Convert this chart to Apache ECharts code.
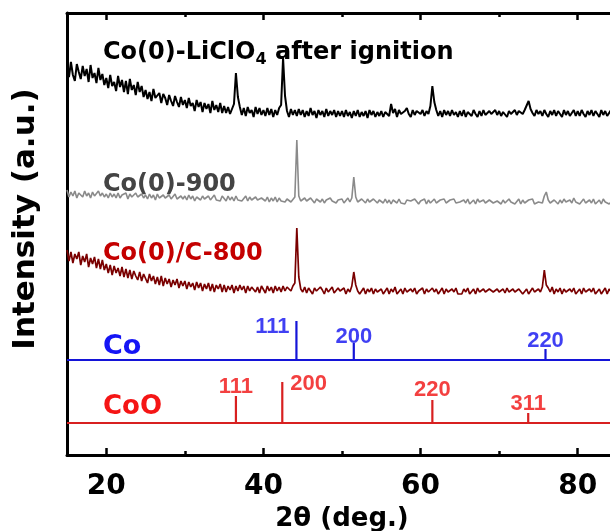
<!DOCTYPE html>
<html>
<head>
<meta charset="utf-8">
<script src="https://cdn.jsdelivr.net/npm/echarts@6/dist/echarts.min.js"></script>
<style>
  html, body { margin: 0; padding: 0; background: #fff; }
  #chart { width: 610px; height: 531px; }
</style>
</head>
<body>
<div id="chart"></div>
<script>
// Scan grid: 2θ from 15° in 0.25° steps (281 points to 85°)
const twoThetaStart = 15;
const twoThetaStep = 0.25;

// Co(0)-LiClO4 after ignition (a.u., above its own baseline)
const licloIgnited = [
  58,48,63,50,44,61,53,46,59,49,56,43,60,47,52,42,57,45,51,40,
  47,37,50,39,43,34,49,38,45,33,44,31,46,35,40,30,43,33,39,28,
  35,26,33,24,36,27,25,32,22,31,27,20,30,24,19,29,23,18,28,20,
  25,17,27,19,22,14,25,18,23,13,22,16,21,12,24,15,20,13,22,12,
  19,12,18,11,16,21,52,28,18,10,17,9,18,12,15,8,18,11,17,10,
  15,9,17,10,16,8,15,10,17,20,67,29,14,8,16,10,15,9,16,10,
  15,8,14,9,17,10,14,7,15,10,14,8,16,9,14,10,15,8,14,9,
  14,8,15,9,13,7,14,9,15,8,13,9,14,7,15,10,14,8,13,9,
  14,8,13,15,9,21,12,16,8,15,11,9,14,17,11,8,15,10,14,16,
  11,15,9,14,11,19,39,23,15,9,14,8,15,10,14,9,15,10,13,8,
  14,9,15,8,13,14,9,15,11,8,14,9,15,10,8,14,11,9,15,10,
  14,9,13,15,8,14,11,9,15,10,14,16,11,15,17,24,16,12,9,15,
  11,14,9,15,11,8,14,10,15,9,14,11,8,15,10,14,9,11,15,9,
  14,9,15,11,8,14,10,15,9,14,11,8,15,10,14,9,11,15,10,9,
  13
];

// Co(0)-900
const co900 = [
  20,13,18,14,19,12,17,18,13,19,14,17,12,18,14,13,19,14,17,13,
  16,12,17,13,16,12,17,12,15,13,17,11,16,13,12,17,13,11,16,12,
  15,11,16,12,15,10,16,12,11,15,12,10,15,11,12,16,11,10,14,11,
  14,10,15,11,14,9,13,15,10,14,11,9,14,10,12,15,10,12,9,14,
  13,9,14,10,13,9,14,10,12,9,11,14,9,13,10,9,13,10,9,12,
  12,9,13,8,12,9,13,8,12,9,11,8,11,10,8,10,13,70,14,9,
  8,12,9,8,12,10,7,11,10,8,11,7,10,8,12,9,11,7,10,8,
  11,7,9,12,8,12,33,13,8,7,11,9,7,11,8,7,11,9,7,10,
  9,7,11,7,10,6,10,9,7,11,7,9,6,10,8,9,7,11,9,6,
  9,7,11,6,10,7,9,11,7,6,10,8,11,7,6,10,8,11,7,9,
  8,6,10,7,11,6,8,10,6,11,8,6,10,7,6,10,11,7,6,9,
  8,6,10,7,6,11,8,10,6,8,11,6,10,7,6,10,8,11,6,8,
  8,10,7,14,18,10,7,6,10,8,6,10,7,11,8,6,10,7,12,8,
  9,6,8,11,7,6,10,7,11,6,8,10,6,11,8,10,6,8,10,7,
  8
];

// Co(0)/C-800
const coC800 = [
  50,39,48,37,46,41,48,35,44,38,46,33,42,36,43,32,41,31,40,30,
  36,27,35,25,34,27,32,24,33,23,31,22,30,21,29,24,20,28,19,26,
  25,17,26,19,24,16,23,15,24,14,22,16,21,13,20,15,21,12,19,14,
  19,11,18,13,17,10,18,12,17,9,16,11,17,9,16,8,15,11,16,8,
  15,8,14,10,15,7,14,9,15,10,14,7,14,9,13,15,8,13,7,14,
  13,7,14,9,13,7,14,9,13,8,14,9,13,15,9,14,17,72,23,11,
  8,13,7,12,10,6,12,9,7,13,10,6,12,8,10,13,7,6,12,9,
  7,12,6,11,8,14,28,15,9,6,8,12,6,11,8,12,6,11,8,6,
  11,6,8,12,6,11,8,13,6,8,11,6,12,8,6,11,8,12,6,9,
  8,12,6,11,8,6,12,8,11,6,8,12,6,11,8,6,11,8,12,6,
  8,6,11,8,12,6,8,11,6,12,8,6,11,8,6,11,12,8,6,11,
  8,6,11,7,12,8,6,11,8,6,11,12,6,8,11,6,8,12,8,6,
  11,8,13,30,15,12,8,13,6,11,8,12,6,11,8,6,11,8,12,6,
  8,11,6,12,8,6,11,8,12,6,8,11,6,8,12,6,11,8,6,11,
  9
];

// Reference patterns: Co (cubic) and CoO
const coRefPos = [44.2, 51.5, 75.9];
const coRefInt = [39, 17, 11];
const coRefHkl = ['111', '200', '220'];
const cooRefPos = [36.5, 42.4, 61.5, 73.7];
const cooRefInt = [27, 41, 23, 10];
const cooRefHkl = ['111', '200', '220', '311'];

// Axis ticks
const xMajorTicks = [20, 40, 60, 80];
const xMinorTicks = [30, 50, 70];

// ---- layout / styling ----
const FONT = '"DejaVu Sans", "Liberation Sans", Arial, sans-serif';
const HKL_FONT = '"Liberation Sans", Arial, sans-serif';
const X_MIN = 15, X_MAX = 85;
const stackOffset = { ignited: 330, co900: 245, coC800: 155, coRef: 95, cooRef: 32 };
// The frame runs past the right edge of the canvas, so the right border is cut off.
const gridRect = { left: 67, top: 13, right: -7, bottom: 76, outerBoundsMode: 'none', containLabel: false };

function scan(values, offset) {
  return values.map((v, i) => [twoThetaStart + i * twoThetaStep, v + offset]);
}

function stickPattern(pos, inten, base) {
  const pts = [[X_MIN, base]];
  pos.forEach((p, i) => { pts.push([p, base], [p, base + inten[i]], [p, base]); });
  pts.push([X_MAX, base]);
  return pts;
}

function stickLabels(pos, inten, hkl, base, placement) {
  return pos.map((p, i) => ({
    value: [p, base + inten[i]],
    name: hkl[i],
    label: placement[i]
  }));
}

const coLabelPlacement = [
  { position: 'left', distance: 7, offset: [0, 6] },
  { position: 'top', distance: -5 },
  { position: 'top', distance: -3 }
];
const cooLabelPlacement = [
  { position: 'top', distance: -2 },
  { position: 'right', distance: 8, offset: [0, 2] },
  { position: 'top', distance: -1 },
  { position: 'top', distance: -2 }
];

const tickAxis = (position, values, len, withLine, withLabels) => ({
  type: 'value', position, min: X_MIN, max: X_MAX,
  axisLine: { show: withLine, onZero: false, lineStyle: { color: '#000', width: 3 } },
  axisTick: { show: true, inside: true, length: len, customValues: values, lineStyle: { color: '#000', width: 2.5 } },
  axisLabel: withLabels ? {
    show: true, customValues: values, margin: 18,
    color: '#000', fontFamily: FONT, fontWeight: 'bold', fontSize: 28
  } : { show: false },
  splitLine: { show: false }
});

const chart = echarts.init(document.getElementById('chart'), null, { renderer: 'canvas' });

chart.setOption({
  animation: false,
  backgroundColor: '#fff',
  grid: [
    Object.assign({}, gridRect),
    Object.assign({}, gridRect)
  ],
  xAxis: [
    Object.assign(tickAxis('bottom', xMajorTicks, 7, true, true), {
      gridIndex: 0,
      name: '2θ (deg.)', nameLocation: 'middle', nameGap: 48,
      nameTextStyle: { color: '#000', fontFamily: FONT, fontWeight: 'bold', fontSize: 26 }
    }),
    Object.assign(tickAxis('top', xMajorTicks, 7, true, false), { gridIndex: 0 }),
    Object.assign(tickAxis('bottom', xMinorTicks, 4, false, false), { gridIndex: 1 }),
    Object.assign(tickAxis('top', xMinorTicks, 4, false, false), { gridIndex: 1 })
  ],
  yAxis: [
    {
      type: 'value', gridIndex: 0, min: 0, max: 442,
      axisLine: { show: true, onZero: false, lineStyle: { color: '#000', width: 3 } },
      axisTick: { show: false }, axisLabel: { show: false }, splitLine: { show: false }
    },
    {
      type: 'value', gridIndex: 1, min: 0, max: 442, show: false
    }
  ],
  series: [
    {
      type: 'line', xAxisIndex: 0, yAxisIndex: 0, showSymbol: false, silent: true,
      data: scan(coC800, stackOffset.coC800),
      lineStyle: { color: '#7a0000', width: 1.7 }
    },
    {
      type: 'line', xAxisIndex: 0, yAxisIndex: 0, showSymbol: false, silent: true,
      data: scan(co900, stackOffset.co900),
      lineStyle: { color: '#8a8a8a', width: 1.6 }
    },
    {
      type: 'line', xAxisIndex: 0, yAxisIndex: 0, showSymbol: false, silent: true,
      data: scan(licloIgnited, stackOffset.ignited),
      lineStyle: { color: '#000', width: 2 }
    },
    {
      type: 'line', xAxisIndex: 0, yAxisIndex: 0, showSymbol: false, silent: true,
      data: stickPattern(coRefPos, coRefInt, stackOffset.coRef),
      lineStyle: { color: '#1414d8', width: 2.2 }
    },
    {
      type: 'line', xAxisIndex: 0, yAxisIndex: 0, showSymbol: false, silent: true,
      data: stickPattern(cooRefPos, cooRefInt, stackOffset.cooRef),
      lineStyle: { color: '#d82020', width: 2.2 }
    },
    {
      type: 'scatter', xAxisIndex: 0, yAxisIndex: 0, symbolSize: 0, silent: true,
      data: stickLabels(coRefPos, coRefInt, coRefHkl, stackOffset.coRef, coLabelPlacement),
      label: {
        show: true, formatter: p => p.name,
        color: '#1010f0', fontFamily: HKL_FONT, fontWeight: 'bold', fontSize: 22
      }
    },
    {
      type: 'scatter', xAxisIndex: 0, yAxisIndex: 0, symbolSize: 0, silent: true,
      data: stickLabels(cooRefPos, cooRefInt, cooRefHkl, stackOffset.cooRef, cooLabelPlacement),
      label: {
        show: true, formatter: p => p.name,
        color: '#f01010', fontFamily: HKL_FONT, fontWeight: 'bold', fontSize: 22
      }
    }
  ],
  graphic: [
    {
      type: 'text', x: 26, y: 219, rotation: Math.PI / 2, z: 100,
      style: {
        text: 'Intensity (a.u.)', align: 'center', verticalAlign: 'middle',
        fill: '#000', font: 'bold 31px ' + FONT
      }
    },
    {
      type: 'text', x: 103, y: 53, z: 100,
      style: {
        text: 'Co(0)-LiClO{sub|4} after ignition', verticalAlign: 'middle',
        fill: '#000', font: 'bold 24px ' + FONT, lineHeight: 30,
        rich: {
          sub: { fontSize: 16, fontWeight: 'bold', fontFamily: FONT, fill: '#000', lineHeight: 20, verticalAlign: 'bottom' }
        }
      }
    },
    {
      type: 'text', x: 103, y: 185, z: 100,
      style: { text: 'Co(0)-900', verticalAlign: 'middle', fill: '#444', font: 'bold 24px ' + FONT }
    },
    {
      type: 'text', x: 103, y: 254, z: 100,
      style: { text: 'Co(0)/C-800', verticalAlign: 'middle', fill: '#c40000', font: 'bold 24px ' + FONT }
    },
    {
      type: 'text', x: 103, y: 347, z: 100,
      style: { text: 'Co', verticalAlign: 'middle', fill: '#1515f5', font: 'bold 27px ' + FONT }
    },
    {
      type: 'text', x: 103, y: 407, z: 100,
      style: { text: 'CoO', verticalAlign: 'middle', fill: '#f51515', font: 'bold 26px ' + FONT }
    }
  ]
});
</script>
</body>
</html>
